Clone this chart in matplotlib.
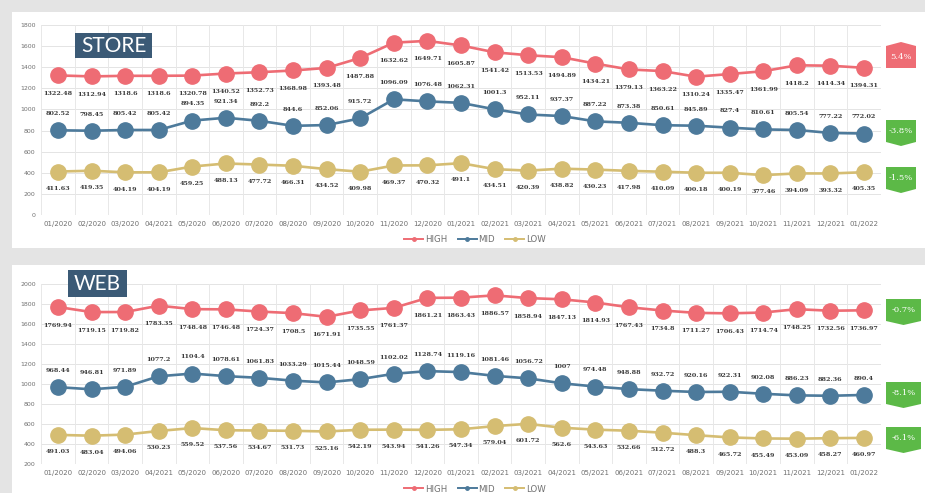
import matplotlib
matplotlib.use("Agg")
import matplotlib.pyplot as plt
from matplotlib.patches import Rectangle, Polygon
from matplotlib.lines import Line2D

months = ["01/2020", "02/2020", "03/2020", "04/2021", "05/2020", "06/2020", "07/2020", "08/2020",
          "09/2020", "10/2020", "11/2020", "12/2020", "01/2021", "02/2021", "03/2021", "04/2021",
          "05/2021", "06/2021", "07/2021", "08/2021", "09/2021", "10/2021", "11/2021", "12/2021",
          "01/2022"]

store_high = [1322.48, 1312.94, 1318.6, 1318.6, 1320.78, 1340.52, 1352.73, 1368.98, 1393.48, 1487.88,
              1632.62, 1649.71, 1605.87, 1541.42, 1513.53, 1494.89, 1434.21, 1379.13, 1363.22, 1310.24,
              1335.47, 1361.99, 1418.2, 1414.34, 1394.31]
store_mid = [802.52, 798.45, 805.42, 805.42, 894.35, 921.34, 892.2, 844.6, 852.06, 915.72,
             1096.09, 1076.48, 1062.31, 1001.3, 952.11, 937.37, 887.22, 873.38, 850.61, 845.89,
             827.4, 810.61, 805.54, 777.22, 772.02]
store_low = [411.63, 419.35, 404.19, 404.19, 459.25, 488.13, 477.72, 466.31, 434.52, 409.98,
             469.37, 470.32, 491.1, 434.51, 420.39, 438.82, 430.23, 417.98, 410.09, 400.18,
             400.19, 377.46, 394.09, 393.32, 405.35]

web_high = [1769.94, 1719.15, 1719.82, 1783.35, 1748.48, 1746.48, 1724.37, 1708.5, 1671.91, 1735.55,
            1761.37, 1861.21, 1863.43, 1886.57, 1858.94, 1847.13, 1814.93, 1767.43, 1734.8, 1711.27,
            1706.43, 1714.74, 1748.25, 1732.56, 1736.97]
web_mid = [968.44, 946.81, 971.89, 1077.2, 1104.4, 1078.61, 1061.83, 1033.29, 1015.44, 1048.59,
           1102.02, 1128.74, 1119.16, 1081.46, 1056.72, 1007, 974.48, 948.88, 932.72, 920.16,
           922.31, 902.08, 886.23, 882.36, 890.4]
web_low = [491.03, 483.04, 494.06, 530.23, 559.52, 537.56, 534.67, 531.73, 525.16, 542.19,
           543.94, 541.26, 547.34, 579.04, 601.72, 562.6, 543.63, 532.66, 512.72, 488.3,
           465.72, 455.49, 453.09, 458.27, 460.97]

series_names = ["HIGH", "MID", "LOW"]
store_badges = ["5.4%", "-3.8%", "-1.5%"]
web_badges = ["-0.7%", "-8.1%", "-6.1%"]
store_yticks = [0, 200, 400, 600, 800, 1000, 1200, 1400, 1600, 1800]
web_yticks = [200, 400, 600, 800, 1000, 1200, 1400, 1600, 1800, 2000]

COLORS = ["#ee6c74", "#4d7a9b", "#d5bd72"]
W, H = 925, 493

fig = plt.figure(figsize=(W / 100, H / 100), dpi=100)
fig.patch.set_facecolor("#e4e4e4")


def fx(px):
    return px / W


def fy(py):
    return 1 - py / H


# white panels
for (x0, y0, x1, y1) in [(12, 12, 925, 248), (12, 265, 925, 493)]:
    fig.patches.append(Rectangle((fx(x0), fy(y1)), fx(x1) - fx(x0), fy(y0) - fy(y1),
                                 transform=fig.transFigure, facecolor="white", edgecolor="none", zorder=-5))


def panel(rect, data, yticks, ylim, label_offsets, title, title_box, badges, badge_boxes, legend_y):
    ax = fig.add_axes(rect)
    ax.set_facecolor("none")
    x = list(range(len(months)))
    for vals, color, off in zip(data, COLORS, label_offsets):
        ax.plot(x, vals, color=color, lw=1.9, marker="o", ms=11, mec=color, mfc=color, zorder=3)
        for xi, v in zip(x, vals):
            ax.annotate(f"{v:g}", (xi, v), xytext=(0, off), textcoords="offset points",
                        ha="center", va="center", fontsize=4.6, color="#3a3a3a",
                        family="DejaVu Serif", fontweight="bold", zorder=4)
    ax.set_xlim(-0.5, len(months) - 0.5)
    ax.set_ylim(*ylim)
    ax.set_yticks(yticks)
    ax.set_yticklabels([str(t) for t in yticks], fontsize=4.5, color="#707070")
    ax.set_xticks(x)
    ax.set_xticklabels(months, fontsize=5.0, color="#707070")
    ax.tick_params(length=0, pad=4)
    for yt in yticks:
        ax.axhline(yt, color="#e4e4e4", lw=0.7, zorder=1)
    for b in range(len(months) + 1):
        ax.axvline(b - 0.5, color="#e8e8e8", lw=0.7, zorder=1)
    for s in ax.spines.values():
        s.set_visible(False)
    handles = [Line2D([0], [0], color=c, lw=1.4, marker="o", ms=2.5) for c in COLORS]
    fig.legend(handles, series_names, loc="center", bbox_to_anchor=(fx(475), fy(legend_y)),
               ncol=3, frameon=False, fontsize=6.2, labelcolor="#707070", handlelength=2.2,
               handletextpad=0.2, columnspacing=1.2)
    # title box
    x0, y0, x1, y1 = title_box
    fig.patches.append(Rectangle((fx(x0), fy(y1)), fx(x1) - fx(x0), fy(y0) - fy(y1),
                                 transform=fig.transFigure, facecolor="#3b5a76", edgecolor="none", zorder=5))
    fig.text(fx((x0 + x1) / 2), fy((y0 + y1) / 2), title, ha="center", va="center",
             fontsize=15, color="white", family="Lato", zorder=6)
    # badges
    for txt, (bx0, by0, bx1, by1, up) in zip(badges, badge_boxes):
        color = "#ee6c74" if up else "#5cb947"
        tip = 4
        if up:
            pts = [(bx0, by0 + tip), ((bx0 + bx1) / 2, by0), (bx1, by0 + tip), (bx1, by1), (bx0, by1)]
        else:
            pts = [(bx0, by0), (bx1, by0), (bx1, by1 - tip), ((bx0 + bx1) / 2, by1), (bx0, by1 - tip)]
        fig.patches.append(Polygon([(fx(p[0]), fy(p[1])) for p in pts], closed=True,
                                   transform=fig.transFigure, facecolor=color, edgecolor="none", zorder=5))
        cy = (by0 + tip + by1) / 2 if up else (by0 + by1 - tip) / 2
        fig.text(fx((bx0 + bx1) / 2), fy(cy), txt, ha="center", va="center", fontsize=6,
                 color="white", family="DejaVu Serif", zorder=6)
    return ax


ax_left = fx(41.2)
ax_width = fx(880.8) - fx(41.2)

panel([ax_left, fy(215), ax_width, fy(25) - fy(215)],
      [store_high, store_mid, store_low], store_yticks, (0, 1800), [-13, 12, -12],
      "STORE", (75, 33, 152, 58), store_badges,
      [(886, 42, 916, 68, True), (886, 120, 916, 146, False), (886, 167, 916, 193, False)], 240)

panel([ax_left, fy(464), ax_width, fy(284) - fy(464)],
      [web_high, web_mid, web_low], web_yticks, (200, 2000), [-13, 12, -12],
      "WEB", (68, 270, 127, 297), web_badges,
      [(886, 299, 921, 325, False), (886, 382, 921, 408, False), (886, 427, 921, 453, False)], 489)

fig.savefig("out.png", dpi=100, facecolor=fig.get_facecolor())
